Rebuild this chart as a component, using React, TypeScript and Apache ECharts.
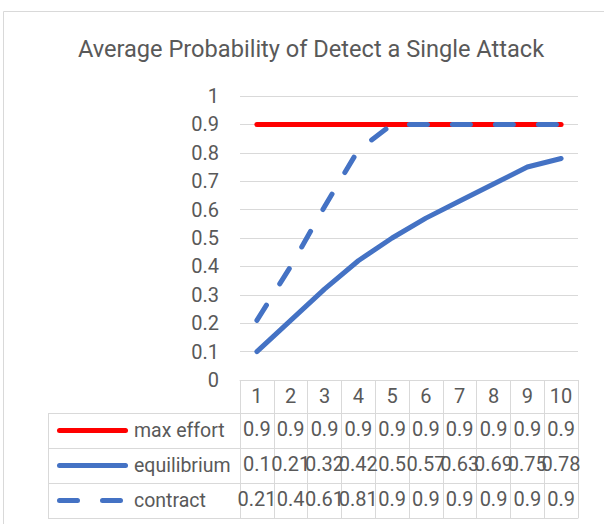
import React, { useEffect, useRef } from "react";
import * as echarts from "echarts";

const categories = ["1", "2", "3", "4", "5", "6", "7", "8", "9", "10"];
const maxEffort = [0.9, 0.9, 0.9, 0.9, 0.9, 0.9, 0.9, 0.9, 0.9, 0.9];
const equilibrium = [0.1, 0.21, 0.32, 0.42, 0.5, 0.57, 0.63, 0.69, 0.75, 0.78];
const contract = [0.21, 0.4, 0.61, 0.81, 0.9, 0.9, 0.9, 0.9, 0.9, 0.9];
const seriesNames = ["max effort", "equilibrium", "contract"];
const titleText = "Average Probability of Detect a Single Attack";

const FONT = "Roboto, 'Liberation Sans', sans-serif";
const TXT = "#595959";
const GRIDC = "#d9d9d9";
const RED = "#ff0000";
const BLUE = "#4472c4";
const DASH = [18, 25];

// layout
const W = 604;
const H = 524;
const GL = 240;
const GR = 578;
const GT = 96;
const GB = 380;
const HEADER_H = 33;
const ROW_H = 35;
const LEG_L = 48;

export default function App() {
  const ref = useRef<HTMLDivElement>(null);
  useEffect(() => {
    if (!ref.current) return;
    const chart = echarts.init(ref.current, null, { renderer: "svg" });
    const rows = [maxEffort, equilibrium, contract];
    const rowTop = (i: number) => GB + HEADER_H + i * ROW_H;

    const xAxes: any[] = [
      {
        type: "category",
        data: categories,
        position: "bottom",
        offset: 0,
        boundaryGap: true,
        axisLine: { show: true, lineStyle: { color: GRIDC, width: 1 } },
        axisTick: { show: true, interval: 0, length: HEADER_H, lineStyle: { color: GRIDC } },
        axisLabel: {
          interval: 0,
          margin: 6,
          color: TXT,
          fontSize: 20,
          fontFamily: FONT,
          hideOverlap: false,
        },
      },
    ];
    rows.forEach((vals, r) => {
      xAxes.push({
        type: "category",
        data: categories,
        position: "bottom",
        offset: HEADER_H + r * ROW_H,
        boundaryGap: true,
        axisLine: { show: true, lineStyle: { color: GRIDC, width: 1 } },
        axisTick: { show: true, interval: 0, length: ROW_H, lineStyle: { color: GRIDC } },
        axisLabel: {
          interval: 0,
          margin: 6,
          color: TXT,
          fontSize: 20,
          fontFamily: FONT,
          hideOverlap: false,
          formatter: (_v: string, i: number) => String(vals[i]),
        },
      });
    });
    xAxes.push({
      type: "category",
      data: categories,
      position: "bottom",
      offset: HEADER_H + 3 * ROW_H,
      boundaryGap: true,
      axisLine: { show: true, lineStyle: { color: GRIDC, width: 1 } },
      axisTick: { show: false },
      axisLabel: { show: false },
    });

    const legendColors = [RED, BLUE, BLUE];
    const legendGraphics: any[] = [];
    // outer chart border
    legendGraphics.push({
      type: "rect",
      shape: { x: 3.5, y: 11.5, width: 700, height: 700 },
      style: { fill: "none", stroke: GRIDC, lineWidth: 1 },
      silent: true,
    });
    // left part of table lines
    for (let i = 0; i <= 3; i++) {
      const y = rowTop(i) + 0.5;
      legendGraphics.push({
        type: "line",
        shape: { x1: LEG_L, y1: y, x2: GL, y2: y },
        style: { stroke: GRIDC, lineWidth: 1 },
        silent: true,
      });
    }
    legendGraphics.push({
      type: "line",
      shape: { x1: LEG_L + 0.5, y1: rowTop(0), x2: LEG_L + 0.5, y2: rowTop(3) + 1 },
      style: { stroke: GRIDC, lineWidth: 1 },
      silent: true,
    });
    seriesNames.forEach((name, r) => {
      const cy = rowTop(r) + ROW_H / 2;
      legendGraphics.push({
        type: "line",
        shape: { x1: 59.5, y1: cy, x2: 125.5, y2: cy },
        style: {
          stroke: legendColors[r],
          lineWidth: 5,
          lineCap: "round",
          lineDash: r === 2 ? DASH : null,
        },
        silent: true,
      });
      legendGraphics.push({
        type: "text",
        x: 134,
        y: cy,
        style: {
          text: name,
          fill: TXT,
          fontSize: 19.5,
          fontFamily: FONT,
          align: "left",
          verticalAlign: "middle",
        },
        silent: true,
      });
    });

    const option: any = {
      animation: false,
      backgroundColor: "#ffffff",
      title: {
        text: titleText,
        left: 306,
        top: 32,
        textAlign: "center",
        textStyle: { color: TXT, fontSize: 23.6, fontWeight: "normal", fontFamily: FONT },
      },
      grid: { left: GL, right: W - GR, top: GT, bottom: H - GB, containLabel: false },
      xAxis: xAxes,
      yAxis: {
        type: "value",
        min: 0,
        max: 1,
        interval: 0.1,
        axisLine: { show: false },
        axisTick: { show: false },
        splitLine: { lineStyle: { color: GRIDC, width: 1 } },
        axisLabel: {
          margin: 21,
          color: TXT,
          fontSize: 20,
          fontFamily: FONT,
          formatter: (v: number) => String(Math.round(v * 10) / 10),
        },
      },
      graphic: legendGraphics,
      series: [
        {
          name: seriesNames[0],
          type: "line",
          data: maxEffort,
          xAxisIndex: 0,
          symbol: "none",
          lineStyle: { color: RED, width: 5, cap: "round", join: "round" },
        },
        {
          name: seriesNames[1],
          type: "line",
          data: equilibrium,
          xAxisIndex: 0,
          symbol: "none",
          lineStyle: { color: BLUE, width: 5, cap: "round", join: "round" },
        },
        {
          name: seriesNames[2],
          type: "line",
          data: contract,
          xAxisIndex: 0,
          symbol: "none",
          lineStyle: { color: BLUE, width: 5, type: DASH, cap: "round", join: "round" },
        },
      ],
    };
    chart.setOption(option);
    return () => chart.dispose();
  }, []);
  return (
    <div
      ref={ref}
      style={{ position: "absolute", left: 0, top: 0, width: W, height: H, background: "#fff" }}
    />
  );
}
